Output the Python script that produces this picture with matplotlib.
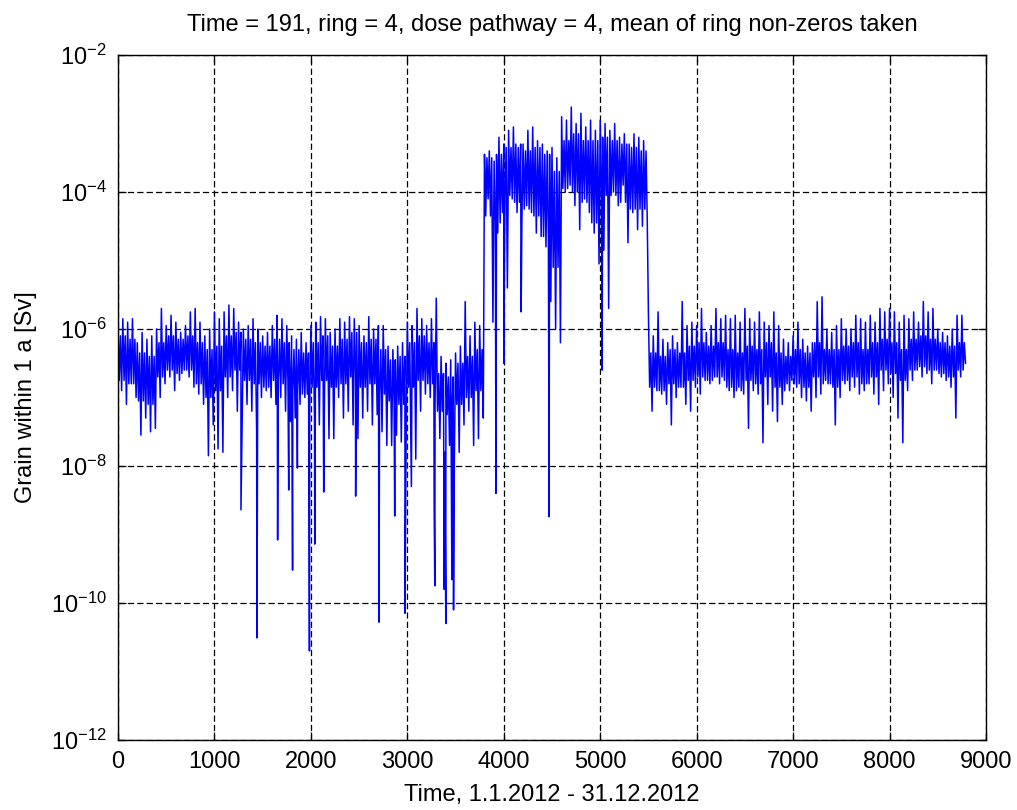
import matplotlib
matplotlib.use("Agg")
import matplotlib.pyplot as plt
import numpy as np

# exponents (log10 of dose)
# highest point in each 50 h bin
hi_exp = [
    # 0 - 3750 h, background before the release
    -5.95, -5.85, -5.9, -5.85, -6.2, -6.05, -6.15, -6.1, -6.0, -5.7,
    -5.95, -5.8, -5.9, -6.05, -5.95, -5.75, -5.7, -5.9, -6.1, -6.0,
    -5.75, -5.85, -5.75, -5.65, -5.7, -5.9, -6.0, -5.95, -5.85, -6.0,
    -6.1, -6.05, -5.95, -5.8, -5.85, -5.95, -6.1, -6.15, -6.05, -6.2,
    -5.95, -5.9, -5.82, -5.85, -6.05, -6.0, -5.85, -5.9, -5.82, -5.85,
    -5.95, -6.1, -5.82, -6.0, -5.95, -5.95, -6.25, -6.3, -6.25, -6.2,
    -5.9, -5.95, -5.7, -5.85, -5.95, -5.85, -5.55, -6.4, -6.5, -6.45,
    -6.35, -6.25, -5.6, -6.1, -5.9, -5.95,
    # 3800 - 5450 h, plume passing
    -3.45, -3.4, -3.55, -3.2, -3.3, -3.1, -3.05, -3.35, -3.3, -3.1,
    -3.05, -3.25, -3.3, -3.4, -3.35, -3.5, -2.9, -2.95, -2.76, -3.0,
    -2.85, -3.05, -2.95, -3.1, -2.95, -3.0, -3.1, -3.0, -3.2, -3.15,
    -3.3, -3.15, -3.2, -3.25,
    # 5500 - 8750 h
    -5.8, -6.1, -5.75, -6.15, -6.2, -6.1, -6.2, -5.6, -5.95, -5.9,
    -5.95, -5.7, -6.05, -5.95, -5.7, -5.85, -5.8, -5.85, -5.8, -5.9,
    -5.7, -5.85, -5.9, -5.75, -5.9, -5.95, -5.75, -5.95, -6.15, -6.2,
    -6.1, -5.9, -6.15, -6.25, -6.2, -5.6, -5.53, -6.0, -6.05, -5.95,
    -5.85, -6.0, -6.0, -5.8, -5.85, -5.9, -5.8, -5.9, -5.7, -5.75,
    -5.7, -5.75, -5.9, -5.8, -5.85, -5.75, -5.9, -5.6, -5.75, -5.7,
    -6.0, -6.05, -6.1, -6.0, -5.8, -5.8,
]
# lowest point in each 50 h bin
lo_exp = [
    -6.9, -7.1, -6.8, -7.0, -7.55, -7.3, -7.5, -7.45, -7.0, -6.8,
    -6.7, -6.9, -6.75, -6.6, -6.7, -6.85, -6.95, -7.1, -7.85, -7.4,
    -7.75, -7.8, -7.0, -6.9, -7.2, -7.3, -7.1, -7.2, -7.5, -7.0,
    -6.9, -7.0, -7.1, -7.0, -7.2, -7.35, -7.3, -7.1, -7.0, -7.2,
    -7.3, -7.4, -7.45, -7.6, -7.6, -7.0, -7.3, -7.2, -7.4, -7.6,
    -7.3, -7.2, -7.4, -7.25, -7.5, -7.7, -7.7, -7.55, -7.65, -7.6,
    -7.8, -7.9, -7.2, -6.95, -7.0, -7.1, -7.6, -7.8, -7.7, -7.9,
    -7.8, -7.4, -7.2, -7.7, -7.6, -7.3,
    -4.1, -5.9, -4.6, -4.3, -5.4, -4.1, -4.3, -4.45, -4.2, -4.3,
    -4.6, -4.65, -4.8, -5.6, -6.0, -6.2, -4.0, -3.9, -4.2, -4.55,
    -4.1, -4.3, -4.6, -5.05, -4.85, -5.7, -4.0, -4.2, -3.9, -4.74,
    -4.3, -4.55, -4.5, -4.4,
    -7.2, -6.9, -6.95, -7.1, -7.4, -7.0, -6.85, -7.1, -7.2, -6.85,
    -6.95, -6.75, -6.8, -6.7, -6.8, -6.75, -6.9, -7.0, -6.85, -6.95,
    -7.45, -6.9, -6.95, -7.66, -7.1, -7.2, -7.35, -7.1, -6.8, -6.75,
    -6.85, -7.0, -7.05, -7.2, -7.0, -6.95, -6.75, -6.8, -7.4, -7.0,
    -6.8, -6.9, -6.85, -6.95, -6.9, -6.8, -6.95, -7.1, -6.9, -6.8,
    -7.0, -7.3, -7.66, -6.9, -6.75, -6.6, -6.7, -6.65, -6.8, -6.6,
    -6.7, -6.75, -6.85, -7.3, -6.7, -6.5,
]
bin_hours = 50

# the solid core of the band, per 100 h block
core_top = [
    -6.1, -6.15, -6.35, -6.4, -6.2, -6.1, -6.15, -6.1, -6.2, -6.3,
    -6.25, -6.1, -6.05, -6.15, -6.2, -6.25, -6.15, -6.2, -6.3, -6.35,
    -6.2, -6.1, -6.25, -6.15, -6.05, -6.2, -6.15, -6.3, -6.45, -6.4,
    -6.2, -6.1, -6.2, -6.65, -6.7, -6.5, -6.4, -6.3,
    -3.5, -3.45, -3.35, -3.3, -3.4, -3.35, -3.45, -3.7, -3.25, -3.15,
    -3.25, -3.25, -3.2, -3.25, -3.3, -3.35, -3.4,
    -6.35, -6.4, -6.3, -6.35, -6.25, -6.2, -6.25, -6.2, -6.3, -6.35,
    -6.25, -6.3, -6.2, -6.35, -6.4, -6.3, -6.35, -6.2, -6.3, -6.3,
    -6.25, -6.2, -6.3, -6.2, -6.15, -6.2, -6.3, -6.15, -6.1, -6.15,
    -6.2, -6.25, -6.2,
]
core_bot = [
    -6.75, -6.8, -7.05, -7.1, -6.7, -6.6, -6.65, -6.6, -6.8, -7.0,
    -6.9, -6.7, -6.6, -6.75, -6.8, -6.85, -6.75, -6.8, -6.9, -6.95,
    -6.85, -6.75, -6.85, -6.8, -6.7, -6.85, -6.8, -6.95, -7.05, -7.1,
    -6.85, -6.75, -6.8, -7.2, -7.25, -7.1, -7.0, -6.9,
    -4.35, -4.45, -4.05, -4.15, -4.25, -4.35, -4.65, -5.1, -3.95, -4.0,
    -4.15, -4.45, -4.05, -4.05, -4.15, -4.25, -4.25,
    -6.85, -6.9, -6.8, -6.85, -6.75, -6.7, -6.75, -6.7, -6.85, -6.9,
    -6.75, -6.8, -6.7, -6.85, -6.9, -6.8, -6.85, -6.7, -6.8, -6.85,
    -6.75, -6.7, -6.8, -6.7, -6.6, -6.65, -6.75, -6.6, -6.55, -6.6,
    -6.65, -6.7, -6.6,
]

# single deep dips: hour, exponent
spike_hour = [1275, 1441, 1655, 1770, 1810, 1860, 1985, 2040, 2133, 2464,
              2706, 2869, 2976, 3042, 3278, 3285, 3382, 3399, 3462, 3479,
              3919, 4000, 4180, 4470, 5020]
spike_exp = [-8.64, -10.51, -9.08, -8.35, -9.52, -8.03, -10.7, -9.14, -8.38, -8.44,
             -10.28, -8.73, -10.15, -8.3, -8.55, -9.75, -9.8, -10.3, -9.66, -10.1,
             -8.4, -6.5, -5.75, -8.74, -6.6]

# build the trace: per bin go hi -> core bottom -> core top -> lo, dips slotted in
t = []
v = []
q = bin_hours / 4
for i in range(len(hi_exp)):
    b = i // 2
    t0 = i * bin_hours
    t += [t0, t0 + q, t0 + 2 * q, t0 + 3 * q]
    v += [hi_exp[i], core_bot[b], core_top[b], lo_exp[i]]
t = np.array(t + spike_hour, dtype=float)
v = np.array(v + spike_exp)
order = np.argsort(t, kind="stable")
t = t[order]
dose = 10.0 ** v[order]

plt.rcParams["font.family"] = ["Liberation Sans", "DejaVu Sans"]
plt.rcParams["mathtext.fontset"] = "custom"
plt.rcParams["mathtext.rm"] = "Liberation Sans"
plt.rcParams["mathtext.it"] = "Liberation Sans:italic"
plt.rcParams["mathtext.default"] = "regular"

fig = plt.figure(figsize=(10.17, 8.10), dpi=100)
ax = fig.add_axes([118 / 1017, 70 / 810, 868 / 1017, 685 / 810])
ax.semilogy(t, dose, color=(0, 0, 1), linewidth=1.1)

ax.set_xlim(0, 9000)
ax.set_ylim(1e-12, 1e-2)
ax.set_xticks(np.arange(0, 9001, 1000))
ax.set_yticks([1e-12, 1e-10, 1e-8, 1e-6, 1e-4, 1e-2])
ax.yaxis.set_minor_locator(matplotlib.ticker.NullLocator())
ax.grid(True, color="black", linestyle=(0, (5, 2.5)), linewidth=0.9)
ax.tick_params(direction="in", top=True, right=True, length=6, width=0.9,
               labelsize=17, pad=8, colors="black")
for s in ax.spines.values():
    s.set_linewidth(1.0)

ax.set_title("Time = 191, ring = 4, dose pathway = 4, mean of ring non-zeros taken",
             fontsize=17, pad=17)
ax.set_xlabel("Time, 1.1.2012 - 31.12.2012", fontsize=17, labelpad=8)
ax.set_ylabel("Grain within 1 a [Sv]", fontsize=17, labelpad=10)

fig.savefig("out.png", dpi=100)
